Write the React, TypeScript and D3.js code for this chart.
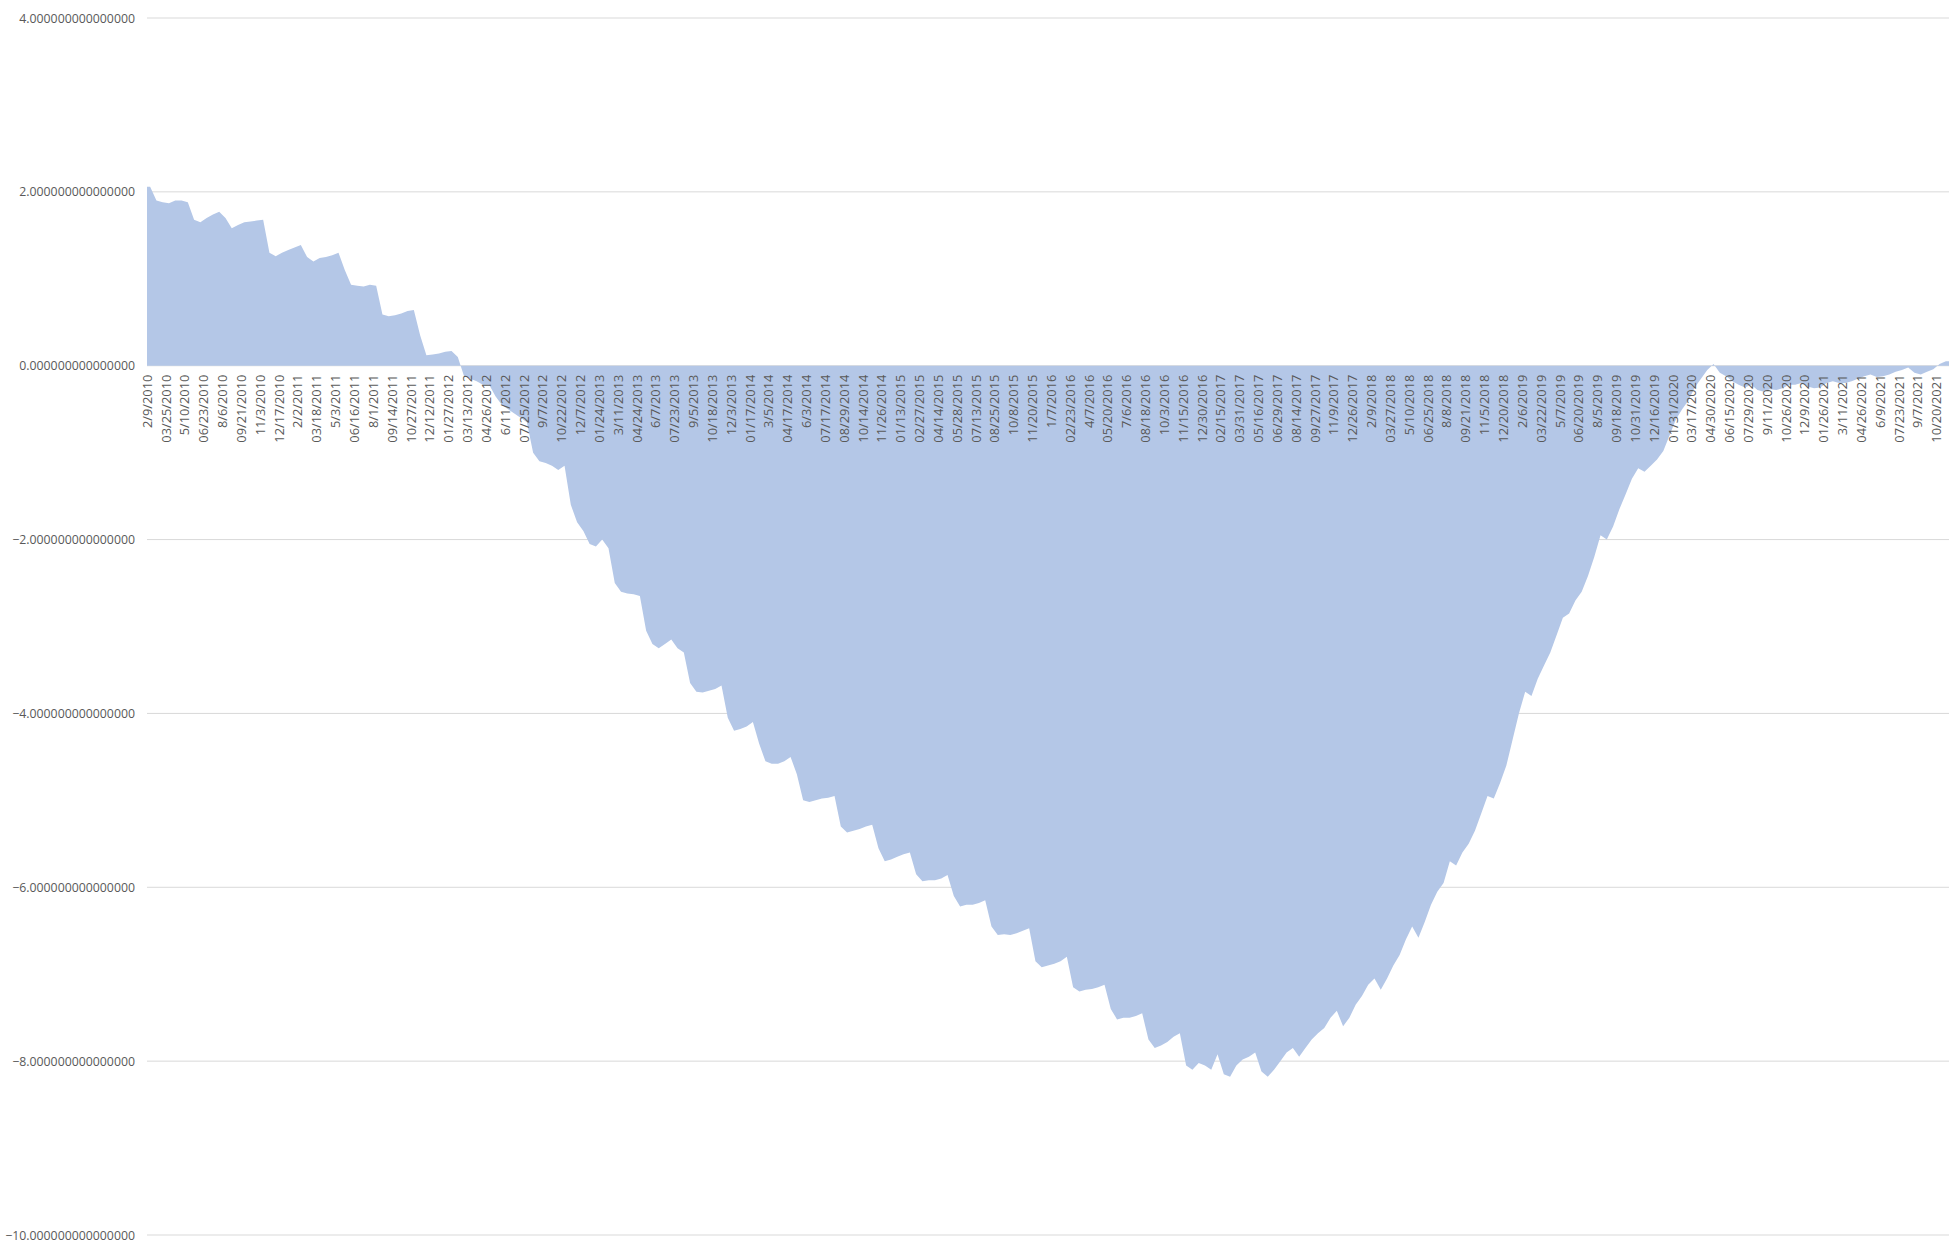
import React from 'react';
import * as d3 from 'd3';

const dateLabels = [
  '2/9/2010','03/25/2010','5/10/2010','06/23/2010','8/6/2010','09/21/2010','11/3/2010','12/17/2010',
  '2/2/2011','03/18/2011','5/3/2011','06/16/2011','8/1/2011','09/14/2011','10/27/2011','12/12/2011',
  '01/27/2012','03/13/2012','04/26/2012','6/11/2012','07/25/2012','9/7/2012','10/22/2012','12/7/2012',
  '01/24/2013','3/11/2013','04/24/2013','6/7/2013','07/23/2013','9/5/2013','10/18/2013','12/3/2013',
  '01/17/2014','3/5/2014','04/17/2014','6/3/2014','07/17/2014','08/29/2014','10/14/2014','11/26/2014',
  '01/13/2015','02/27/2015','04/14/2015','05/28/2015','07/13/2015','08/25/2015','10/8/2015','11/20/2015',
  '1/7/2016','02/23/2016','4/7/2016','05/20/2016','7/6/2016','08/18/2016','10/3/2016','11/15/2016',
  '12/30/2016','02/15/2017','03/31/2017','05/16/2017','06/29/2017','08/14/2017','09/27/2017','11/9/2017',
  '12/26/2017','2/9/2018','03/27/2018','5/10/2018','06/25/2018','8/8/2018','09/21/2018','11/5/2018',
  '12/20/2018','2/6/2019','03/22/2019','5/7/2019','06/20/2019','8/5/2019','09/18/2019','10/31/2019',
  '12/16/2019','01/31/2020','03/17/2020','04/30/2020','06/15/2020','07/29/2020','9/11/2020','10/26/2020',
  '12/9/2020','01/26/2021','3/11/2021','04/26/2021','6/9/2021','07/23/2021','9/7/2021','10/20/2021',
];

// one value per 10 trading days
const values = [
  2.06, 1.9, 1.88, 1.87, 1.9, 1.9, 1.88, 1.68, 1.65, 1.7,
  1.74, 1.77, 1.7, 1.58, 1.62, 1.65, 1.66, 1.67, 1.68, 1.3,
  1.26, 1.3, 1.33, 1.36, 1.39, 1.25, 1.2, 1.24, 1.25, 1.27,
  1.3, 1.1, 0.93, 0.92, 0.91, 0.93, 0.92, 0.59, 0.57, 0.58,
  0.6, 0.63, 0.64, 0.35, 0.12, 0.13, 0.14, 0.16, 0.17, 0.1,
  -0.12, -0.15, -0.18, -0.22, -0.22, -0.35, -0.45, -0.5, -0.55, -0.6,
  -0.65, -1.0, -1.1, -1.12, -1.15, -1.2, -1.15, -1.6, -1.8, -1.9,
  -2.05, -2.08, -2.0, -2.1, -2.5, -2.6, -2.62, -2.63, -2.65, -3.05,
  -3.2, -3.25, -3.2, -3.15, -3.25, -3.3, -3.65, -3.75, -3.76, -3.74,
  -3.72, -3.68, -4.05, -4.2, -4.18, -4.15, -4.1, -4.35, -4.55, -4.58,
  -4.58, -4.55, -4.5, -4.7, -5.0, -5.02, -5.0, -4.98, -4.97, -4.95,
  -5.3, -5.37, -5.35, -5.33, -5.3, -5.28, -5.55, -5.7, -5.68, -5.65,
  -5.62, -5.6, -5.85, -5.93, -5.92, -5.92, -5.9, -5.86, -6.1, -6.22,
  -6.2, -6.2, -6.18, -6.15, -6.45, -6.55, -6.54, -6.55, -6.53, -6.5,
  -6.47, -6.85, -6.92, -6.9, -6.88, -6.85, -6.8, -7.15, -7.2, -7.18,
  -7.17, -7.15, -7.12, -7.4, -7.52, -7.5, -7.5, -7.48, -7.45, -7.75,
  -7.85, -7.82, -7.78, -7.72, -7.68, -8.05, -8.1, -8.02, -8.05, -8.1,
  -7.92, -8.15, -8.18, -8.05, -7.98, -7.95, -7.9, -8.12, -8.18, -8.1,
  -8.0, -7.9, -7.85, -7.95, -7.85, -7.75, -7.68, -7.62, -7.5, -7.42,
  -7.6, -7.5, -7.35, -7.25, -7.12, -7.05, -7.18, -7.05, -6.9, -6.78,
  -6.6, -6.45, -6.58, -6.4, -6.2, -6.05, -5.95, -5.7, -5.75, -5.6,
  -5.5, -5.35, -5.15, -4.95, -4.98, -4.8, -4.6, -4.3, -4.0, -3.75,
  -3.8, -3.6, -3.45, -3.3, -3.1, -2.9, -2.85, -2.7, -2.6, -2.42,
  -2.2, -1.95, -2.0, -1.85, -1.65, -1.48, -1.3, -1.18, -1.22, -1.15,
  -1.08, -0.98, -0.8, -0.62, -0.5, -0.4, -0.25, -0.15, -0.05, 0.02,
  -0.08, -0.12, -0.18, -0.22, -0.25, -0.22, -0.28, -0.3, -0.27, -0.28,
  -0.26, -0.22, -0.22, -0.2, -0.24, -0.26, -0.25, -0.2, -0.18, -0.2,
  -0.2, -0.18, -0.15, -0.12, -0.1, -0.13, -0.12, -0.1, -0.07, -0.05,
  -0.02, -0.08, -0.1, -0.07, -0.04, 0.02, 0.05,
];

const yTicks = [-10, -8, -6, -4, -2, 0, 2, 4];
const STEP = 10;
const LABEL_EVERY = 30;

export default function App() {
  const W = 1958, H = 1246;
  const left = 147, right = 1949, top = 18, bottom = 1235;
  const total = values.length * STEP;
  const x = d3.scaleLinear().domain([0, total]).range([left, right]);
  const y = d3.scaleLinear().domain([-10, 4]).range([bottom, top]);
  const pts: [number, number][] = values.map((v, i) => [i * STEP + STEP / 2, v]);
  const edged: [number, number][] = [[0, values[0]], ...pts, [total, values[values.length - 1]]];
  const area = d3.area<[number, number]>()
    .x(d => x(d[0]))
    .y0(y(0))
    .y1(d => y(d[1]))
    .curve(d3.curveLinear);
  const fmt = d3.format('.15f');
  const font = "'Open Sans', 'DejaVu Sans', sans-serif";
  return (
    <svg width={W} height={H} style={{ position: 'absolute', left: 0, top: 0, background: '#fff' }}>
      <g>
        {yTicks.map(t => (
          <line key={t} x1={left} x2={right} y1={y(t)} y2={y(t)} stroke="#d9d9d9" strokeWidth={1} />
        ))}
      </g>
      <path d={area(edged) || ''} fill="#b4c7e7" />
      <g fontFamily={font} fill="#595959">
        {yTicks.map(t => (
          <text key={t} x={135} y={y(t)} fontSize={12.3} textAnchor="end" dominantBaseline="central">{fmt(t)}</text>
        ))}
        {dateLabels.map((lab, i) => {
          const xx = x(i * LABEL_EVERY + 0.5);
          return (
            <text key={i} fontSize={12.8} transform={`translate(${xx},${y(0) + 9}) rotate(-90)`} textAnchor="end" dy="0.35em">{lab}</text>
          );
        })}
      </g>
    </svg>
  );
}
